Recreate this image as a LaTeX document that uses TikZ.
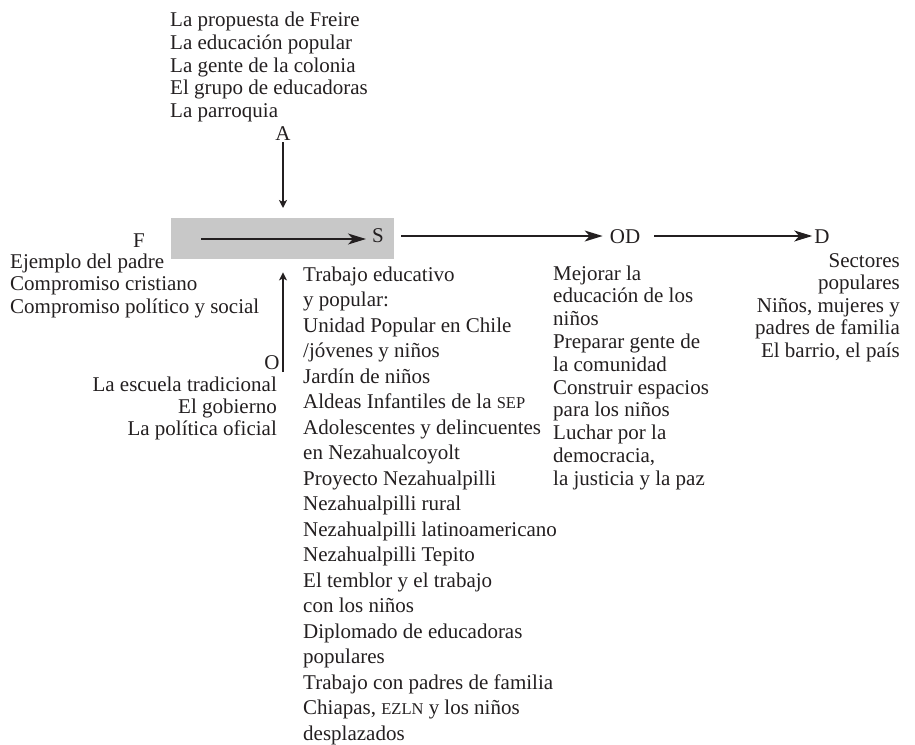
\documentclass[tikz,border=0pt]{standalone}
\usepackage{fontspec}
\setmainfont{Liberation Serif}
\usetikzlibrary{arrows.meta}
\definecolor{boxgray}{RGB}{200,200,200}
\definecolor{ink}{RGB}{35,31,32}
\newcommand{\blk}[3]{{\fontsize{21}{#2}\selectfont\begin{tabular}[t]{@{}#1@{}}#3\end{tabular}}}
\newcommand{\smc}[1]{{\fontsize{16.5}{16.5}\selectfont #1}}
\begin{document}
\begin{tikzpicture}[x=1pt,y=-1pt,
  txt/.style={inner sep=0pt, text=ink, font=\fontsize{21}{22}\selectfont},
  bigarrow/.style={draw=ink, line width=1.4pt, -{Stealth[length=18pt,width=11pt,inset=5pt]}},
  smallarrow/.style={draw=ink, line width=1.4pt, -{Stealth[length=8pt,width=8pt,inset=2pt]}}]
\useasboundingbox (0,0) rectangle (915,744);
\node[fill=boxgray, minimum width=223pt, minimum height=41pt, inner sep=0pt, anchor=north west] (box) at (171,218) {};
\coordinate (yline) at (0,236);
% top
\node[txt, anchor=base west] (Alist) at (170,27) {\blk{l}{22.5}{La propuesta de Freire\\La educación popular\\La gente de la colonia\\El grupo de educadoras\\La parroquia}};
\node[txt, anchor=base] (A) at (283,140) {A};
% central labels
\node[txt, anchor=base] (F) at (139,247) {F};
\node[txt, anchor=base] (S) at (378,242) {S};
\node[txt, anchor=base] (OD) at (625,243) {OD};
\node[txt, anchor=base] (D) at (822,243) {D};
\node[txt, anchor=base] (O) at (272,369) {O};
% lists
\node[txt, anchor=base west] (Flist) at (10,268) {\blk{l}{22.5}{Ejemplo del padre\\Compromiso cristiano\\Compromiso político y social}};
\node[txt, anchor=base east] (Olist) at (277,391) {\blk{r}{22}{La escuela tradicional\\El gobierno\\La política oficial}};
\node[txt, anchor=base west] (Slist) at (303,281) {\blk{l}{25.5}{Trabajo educativo\\y popular:\\Unidad Popular en Chile\\/jóvenes y niños\\Jardín de niños\\Aldeas Infantiles de la \smc{SEP}\\Adolescentes y delincuentes\\en Nezahualcoyolt\\Proyecto Nezahualpilli\\Nezahualpilli rural\\Nezahualpilli latinoamericano\\Nezahualpilli Tepito\\El temblor y el trabajo\\con los niños\\Diplomado de educadoras\\populares\\Trabajo con padres de familia\\Chiapas, \smc{EZLN} y los niños\\desplazados}};
\node[txt, anchor=base west] (ODlist) at (553,280) {\blk{l}{22.8}{Mejorar la\\educación de los\\niños\\Preparar gente de\\la comunidad\\Construir espacios\\para los niños\\Luchar por la\\democracia,\\la justicia y la paz}};
\node[txt, anchor=base east] (Dlist) at (900,267) {\blk{r}{22.5}{Sectores\\populares\\Niños, mujeres y\\padres de familia\\El barrio, el país}};
% arrows
\draw[smallarrow] ([yshift=-2pt]A.south) -- ([yshift=10pt]box.north -| A.south);
\coordinate (Otail) at (283,372);
\draw[smallarrow] (Otail) -- ([yshift=-13pt]box.south -| Otail);
\coordinate (inStart) at (201,239);
\draw[bigarrow, shorten >=6pt] (inStart) -- (S.west |- inStart);
\draw[bigarrow, shorten <=17pt, shorten >=7pt] (S.east |- yline) -- (OD.west |- yline);
\draw[bigarrow, shorten <=14pt, shorten >=2pt] (OD.east |- yline) -- (D.west |- yline);
\end{tikzpicture}
\end{document}
